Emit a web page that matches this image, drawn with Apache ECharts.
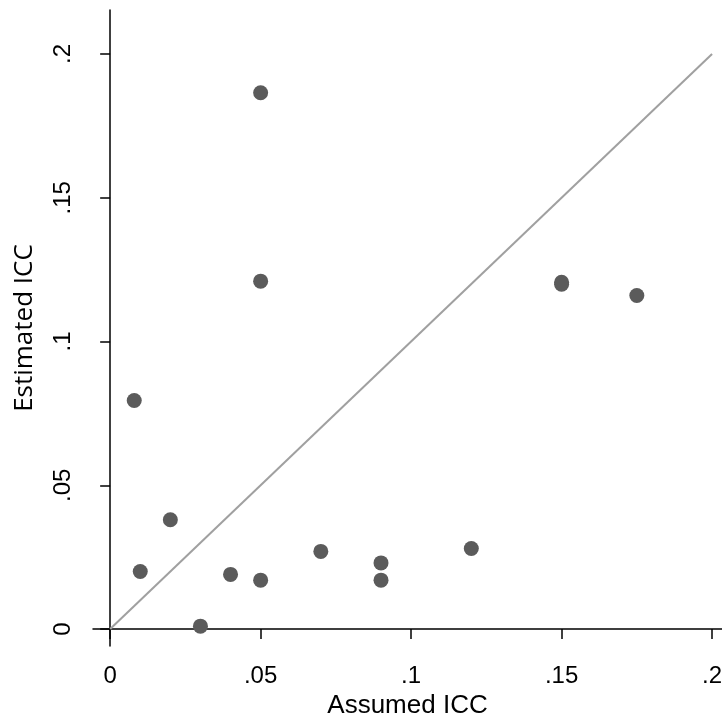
<!DOCTYPE html>
<html>
<head>
<meta charset="utf-8">
<script src="https://cdn.jsdelivr.net/npm/echarts@6/dist/echarts.min.js"></script>
<style>
  html, body { margin: 0; padding: 0; background: #fff; }
  #chart { width: 722px; height: 716px; }
</style>
</head>
<body>
<div id="chart"></div>
<script>
// assumed vs estimated ICC
var assumedIcc   = [0.05, 0.05, 0.15, 0.15, 0.175, 0.008, 0.02, 0.01, 0.03, 0.04, 0.05, 0.07, 0.09, 0.09, 0.12];
var estimatedIcc = [0.1865, 0.121, 0.1206, 0.1199, 0.116, 0.0795, 0.038, 0.020, 0.001, 0.019, 0.017, 0.027, 0.023, 0.017, 0.028];
var tickValues = [0, 0.05, 0.1, 0.15, 0.2];
var tickLabels = ['0', '.05', '.1', '.15', '.2'];
var diagonal = [[0, 0], [0.2, 0.2]];

var points = assumedIcc.map(function (x, i) { return [x, estimatedIcc[i]]; });

function fmt(v) {
  var i = tickValues.indexOf(+v.toFixed(3));
  return i >= 0 ? tickLabels[i] : '';
}

var font = 'Liberation Sans, Arial, sans-serif';
var chart = echarts.init(document.getElementById('chart'));

chart.setOption({
  animation: false,
  backgroundColor: '#fff',
  grid: { left: 93, right: 0, top: 10, bottom: 70, containLabel: false, outerBoundsMode: 'none' },
  xAxis: {
    type: 'value',
    min: -0.0057, max: 0.2033,
    name: 'Assumed ICC',
    nameLocation: 'middle',
    nameGap: 40,
    nameTextStyle: { fontFamily: font, fontSize: 26, color: '#000' },
    splitLine: { show: false },
    axisLine: { show: true, lineStyle: { color: '#000', width: 1.5 } },
    axisTick: { show: true, length: 10, lineStyle: { color: '#000', width: 1.5 }, customValues: tickValues },
    axisLabel: { fontFamily: font, fontSize: 24, color: '#000', margin: 18, customValues: tickValues, formatter: fmt }
  },
  yAxis: {
    type: 'value',
    min: -0.0059, max: 0.2153,
    name: 'Estimated ICC',
    nameLocation: 'middle',
    nameGap: 55,
    nameTextStyle: { fontFamily: 'Open Sans, sans-serif', fontSize: 26, color: '#000' },
    splitLine: { show: false },
    axisLine: { show: true, lineStyle: { color: '#000', width: 1.5 } },
    axisTick: { show: true, length: 10, lineStyle: { color: '#000', width: 1.5 }, customValues: tickValues },
    axisLabel: { fontFamily: font, fontSize: 24, color: '#000', margin: 18, rotate: 90, customValues: tickValues, formatter: fmt }
  },
  series: [
    {
      type: 'line',
      data: diagonal,
      symbol: 'none',
      lineStyle: { color: '#a0a0a0', width: 2 },
      z: 1
    },
    {
      type: 'scatter',
      data: points,
      symbolSize: 15,
      itemStyle: { color: '#5b5b5b', opacity: 1 },
      z: 2
    }
  ]
});
</script>
</body>
</html>
